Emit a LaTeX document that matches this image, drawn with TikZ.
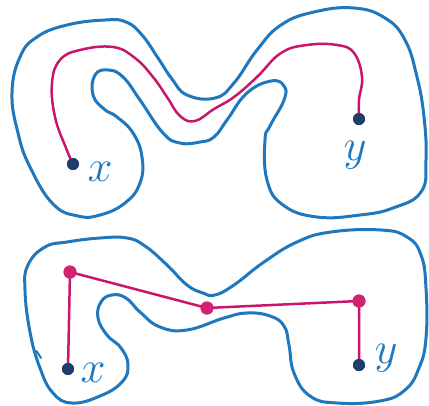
\documentclass[tikz,border=0pt]{standalone}
\usetikzlibrary{calc}
\definecolor{outl}{HTML}{1F78BE}
\definecolor{pathred}{HTML}{C8176A}
\definecolor{dotblue}{HTML}{1E3F6E}
\definecolor{dotred}{HTML}{D02270}
\tikzset{
  outline/.style={draw=outl,line width=3pt,line join=round,line cap=round},
  redpath/.style={draw=pathred,line width=2.5pt,line join=round,line cap=round},
  enddot/.style={circle,fill=dotblue,minimum size=12pt,inner sep=0pt},
  middot/.style={circle,fill=dotred,minimum size=13pt,inner sep=0pt},
  lbl/.style={text=outl,inner sep=0pt,font=\Huge,scale=1.8}
}
\begin{document}
\begin{tikzpicture}[x=1pt,y=-1pt]
\useasboundingbox (0,0) rectangle (429,405);
% top outline
\draw[outline] plot[smooth cycle,tension=0.75] coordinates {
(12,93) (20,57) (37,37) (67,25) (105,20) (126,22) (142,35) (158,58) (172,79) (187,95)
(215,98) (234,83) (257,50) (281,25) (314,12) (354,8) (385,18) (405,40) (417,77)
(424,117) (426,160) (421,192) (393,208) (360,215) (317,217) (283,205) (267,180)
(265,140) (270,126) (284,100) (284,86) (271,81) (247,93) (227,120)
(214,137) (200,142) (180,143) (163,133) (140,100) (123,77) (108,70) (95,75)
(93,95) (104,109) (117,117) (133,133) (142,157) (140,183) (125,203) (100,215)
(78,216) (53,204) (30,167) (18,133)};
% bottom outline
\draw[outline] plot[smooth cycle,tension=0.75] coordinates {
(45,247) (67,242) (100,238) (127,238) (145,246) (167,265) (187,285) (203,293)
(215,295) (234,285) (264,262) (297,242) (331,232) (381,230) (407,237) (421,255)
(426,288) (426,338) (419,368) (405,390) (380,401) (337,403) (310,396) (294,373)
(289,345) (284,326) (270,316) (247,313) (224,318) (187,330) (160,327)
(140,312) (126,298) (112,295) (101,302) (98,318) (107,335) (121,348) (128,365)
(122,382) (100,396) (72,403) (53,393) (40,368) (30,332) (25,290) (28,265)};
\draw[outline,line width=2pt] (36.5,351) -- (41,358);
% top dots and path
\node[enddot] (tx) at (73,164) {};
\node[enddot] (ty) at (359,119) {};
\draw[redpath] plot[smooth,tension=0.7] coordinates {
(tx.center) (66,148) (55,117) (52,83) (60,60) (80,50) (113,47) (135,58) (153,77)
(167,97) (180,116) (195,121) (214,109) (234,97) (257,77) (281,53) (307,45)
(337,45) (354,53) (362,77) (359,100) (ty.center)};
\node[enddot] at (tx) {};
\node[enddot] at (ty) {};
\node[lbl] (lx1) at (100,172) {$x$};
\node[lbl] (ly1) at (355,155) {$y$};
% bottom
\node[enddot] (bx) at (68,369) {};
\node[enddot] (by) at (359,365) {};
\node[middot] (m1) at (70,272) {};
\node[middot] (m2) at (207,308) {};
\node[middot] (m3) at (359,301) {};
\draw[redpath] (bx.center) -- (m1.center) -- (m2.center) -- (m3.center) -- (by.center);
\node[enddot] at (bx) {};
\node[enddot] at (by) {};
\node[middot] at (m1) {};
\node[middot] at (m2) {};
\node[middot] at (m3) {};
\node[lbl] (lx2) at (93,373) {$x$};
\node[lbl] (ly2) at (386,358) {$y$};
\end{tikzpicture}
\end{document}
